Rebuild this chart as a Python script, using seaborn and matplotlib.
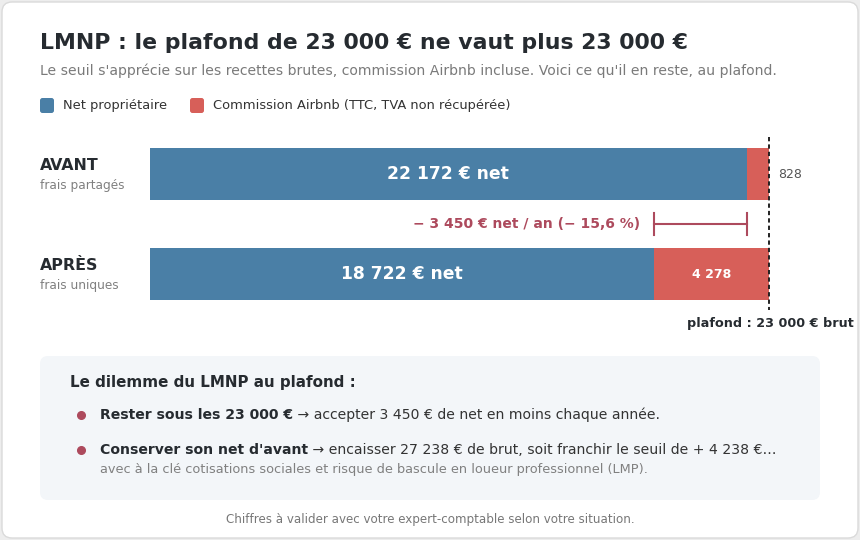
import matplotlib
matplotlib.use("Agg")
import matplotlib.pyplot as plt
import seaborn as sns
import pandas as pd
from matplotlib.patches import FancyBboxPatch

# ---------------- data ----------------
categories = ["AVANT", "APRÈS"]
cat_notes = ["frais partagés", "frais uniques"]
net = [22172, 18722]
commission = [828, 4278]
plafond = 23000

legend_labels = ["Net propriétaire", "Commission Airbnb (TTC, TVA non récupérée)"]

BLUE = "#4a7fa6"
RED = "#d75f59"
MAROON = "#ad4a5d"
DARK = "#262b30"
GREY = "#808080"


def fmt(v):
    return f"{v:,}".replace(",", " ")


df = pd.DataFrame({"cat": categories, "net": net, "commission": commission})
df["total"] = df["net"] + df["commission"]

loss = net[0] - net[1]
loss_pct = loss / net[0] * 100
brut_needed = round(net[0] * plafond / net[1])
over = brut_needed - plafond

plt.rcParams["font.family"] = ["DejaVu Sans"]

fig = plt.figure(figsize=(8.6, 5.4), dpi=100)
fig.patch.set_facecolor("#ededed")

# background overlay in pixel coordinates
bg = fig.add_axes([0, 0, 1, 1], zorder=0)
bg.set_xlim(0, 860)
bg.set_ylim(540, 0)
bg.axis("off")

bg.add_patch(FancyBboxPatch((2, 2), 856, 536, boxstyle="round,pad=0,rounding_size=10",
                            fc="white", ec="#dadada", lw=1))

bg.text(40, 43, "LMNP : le plafond de 23 000 € ne vaut plus 23 000 €", fontsize=15.8,
        weight="bold", color=DARK, va="center")
bg.text(40, 71, "Le seuil s'apprécie sur les recettes brutes, commission Airbnb incluse. "
        "Voici ce qu'il en reste, au plafond.", fontsize=10.1, color="#7a7a7a", va="center")

# legend
for lx, lab, col in [(40, legend_labels[0], BLUE), (190, legend_labels[1], RED)]:
    bg.add_patch(FancyBboxPatch((lx, 98), 14, 15, boxstyle="round,pad=0,rounding_size=2.5",
                                fc=col, ec="none"))
    bg.text(lx + 23, 106, lab, fontsize=9.35, color="#333333", va="center")

# category labels
for i, (c, n) in enumerate(zip(categories, cat_notes)):
    yc = 174 + 100 * i
    bg.text(40, yc - 8, c, fontsize=11.4, weight="bold", color=DARK, va="center")
    bg.text(40, yc + 11, n, fontsize=8.7, color=GREY, va="center")

# ---------------- bars ----------------
ax = fig.add_axes([150 / 860, 240 / 540, 619 / 860, 152 / 540], zorder=1)
ax.patch.set_alpha(0)
sns.barplot(data=df, x="total", y="cat", color=RED, width=0.52, saturation=1, ax=ax)
sns.barplot(data=df, x="net", y="cat", color=BLUE, width=0.52, saturation=1, ax=ax)
ax.set_xlim(0, plafond)
ax.set_ylim(1.26, -0.26)
ax.axis("off")

for i in range(len(categories)):
    ax.text(net[i] / 2, i, f"{fmt(net[i])} € net", ha="center", va="center",
            color="white", weight="bold", fontsize=12.3)
    if commission[i] > 2000:
        ax.text(net[i] + commission[i] / 2, i, fmt(commission[i]), ha="center", va="center",
                color="white", weight="bold", fontsize=9)
    else:
        ax.annotate(fmt(commission[i]), xy=(df["total"][i], i), xytext=(9, 0),
                    textcoords="offset pixels", ha="left", va="center",
                    color="#555555", fontsize=9, annotation_clip=False)

# plafond line
ax.plot([plafond, plafond], [-0.37, 1.36], ls=(0, (2.2, 1.6)), color="#222222", lw=1.4,
        clip_on=False)
ax.annotate(f"plafond : {fmt(plafond)} € brut", xy=(plafond, 1.36), xytext=(85, -13),
            textcoords="offset pixels", ha="right", va="center", weight="bold",
            fontsize=9.2, color=DARK, annotation_clip=False)

# bracket for the loss
ax.plot([net[1], net[0]], [0.5, 0.5], color=MAROON, lw=1.5, clip_on=False)
for xv in (net[1], net[0]):
    ax.plot([xv, xv], [0.39, 0.61], color=MAROON, lw=1.5, clip_on=False)
ax.annotate(f"− {fmt(loss)} € net / an (− {loss_pct:.1f} %)".replace(".", ","),
            xy=(net[1], 0.5), xytext=(-14, 0), textcoords="offset pixels",
            ha="right", va="center", weight="bold", fontsize=10, color=MAROON,
            annotation_clip=False)

# ---------------- bottom box ----------------
bg.add_patch(FancyBboxPatch((40, 356), 780, 144, boxstyle="round,pad=0,rounding_size=8",
                            fc="#f3f6f9", ec="none"))
bg.text(70, 383, "Le dilemme du LMNP au plafond :", fontsize=10.9, weight="bold",
        color=DARK, va="center")

renderer = fig.canvas.get_renderer()


def rich(x, y, parts, size=10.07):
    for txt, weight, col in parts:
        t = bg.text(x, y, txt, fontsize=size, weight=weight, color=col, va="center")
        x += t.get_window_extent(renderer).width


bullets = [
    [(f"Rester sous les {fmt(plafond)} €", "bold", DARK),
     (f" → accepter {fmt(loss)} € de net en moins chaque année.", "normal", "#333333")],
    [("Conserver son net d'avant", "bold", DARK),
     (f" → encaisser {fmt(brut_needed)} € de brut, soit franchir le seuil de + {fmt(over)} €…",
      "normal", "#333333")],
]
for k, (yy, parts) in enumerate(zip([415, 450], bullets)):
    bg.plot(81, yy, "o", ms=5.5, color=MAROON)
    rich(100, yy, parts)

bg.text(100, 470, "avec à la clé cotisations sociales et risque de bascule en loueur "
        "professionnel (LMP).", fontsize=9.3, color=GREY, va="center")

bg.text(430, 520, "Chiffres à valider avec votre expert-comptable selon votre situation.",
        fontsize=8.6, color="#777777", ha="center", va="center")

fig.savefig("out.png", dpi=100, facecolor=fig.get_facecolor())
